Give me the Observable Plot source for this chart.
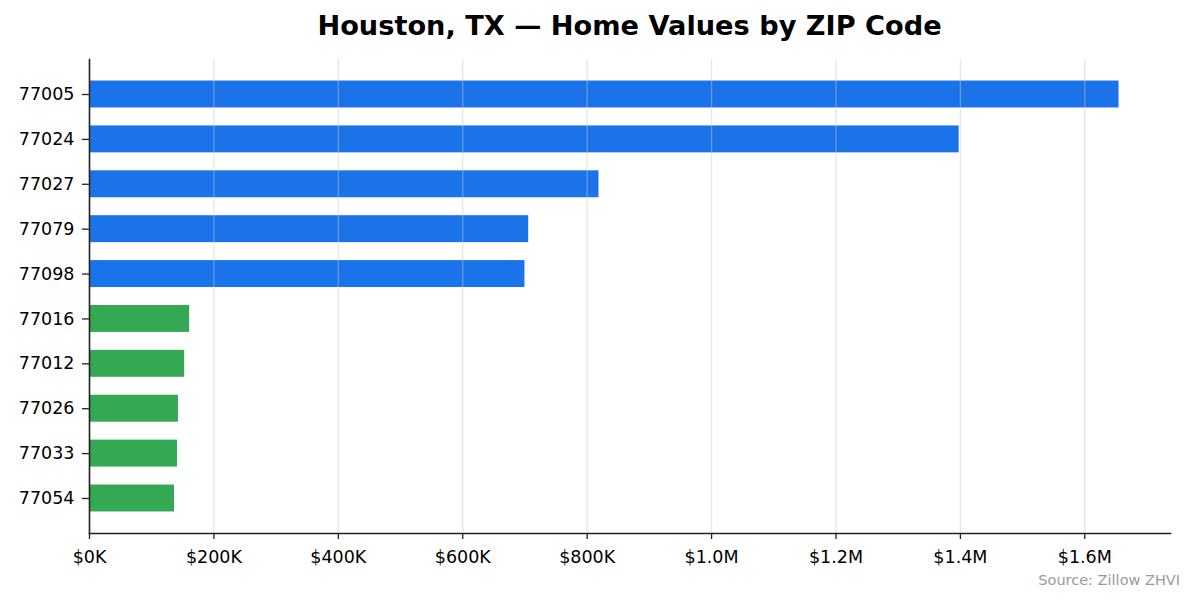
<!DOCTYPE html>
<html>
<head>
<meta charset="utf-8">
<script src="https://cdn.jsdelivr.net/npm/d3@7"></script>
<script src="https://cdn.jsdelivr.net/npm/@observablehq/plot@0.6"></script>
<style>
  html, body { margin: 0; padding: 0; background: #fff; }
  #wrap { position: relative; width: 1195px; height: 603px; font-family: "DejaVu Sans", sans-serif; }
  #title { height: 50px; box-sizing: border-box; padding: 10px 25px 0 89px; text-align: center;
           font-weight: bold; font-size: 27.2px; color: #000; line-height: 32px; }
  #source { position: absolute; right: 15px; top: 572px; font-size: 14.5px; color: #999; }
</style>
</head>
<body>
<div id="wrap">
  <div id="title">Houston, TX — Home Values by ZIP Code</div>
  <div id="chart"></div>
  <div id="source">Source: Zillow ZHVI</div>
</div>
<script>
const zips = ["77005", "77024", "77027", "77079", "77098", "77016", "77012", "77026", "77033", "77054"];
const values = [1655000, 1398000, 819000, 706000, 700000, 161000, 153000, 143000, 141500, 136700];
const groups = ["high", "high", "high", "high", "high", "low", "low", "low", "low", "low"];
const xTicks = [0, 200000, 400000, 600000, 800000, 1000000, 1200000, 1400000, 1600000];

const data = zips.map((z, i) => ({zip: z, value: values[i], group: groups[i]}));
const fmt = v => v >= 1e6 ? `$${(v / 1e6).toFixed(1)}M` : `$${Math.round(v / 1e3)}K`;

const chart = Plot.plot({
  width: 1195,
  height: 553,
  marginTop: 9,
  marginBottom: 70,
  marginLeft: 89,
  marginRight: 25,
  style: {fontFamily: "DejaVu Sans, sans-serif", fontSize: "17.5px", color: "#000", background: "#fff"},
  x: {domain: [0, d3.max(values) * 1.05], ticks: xTicks, tickFormat: fmt, label: null},
  y: {domain: zips, paddingInner: 0.4, paddingOuter: 0.48, round: false, label: null},
  color: {domain: ["high", "low"], range: ["#1a73e8", "#34a853"]},
  marks: [
    Plot.barX(data, {x: "value", y: "zip", fill: "group"}),
    Plot.gridX(xTicks, {stroke: "#c8c8c8", strokeOpacity: 0.45, strokeWidth: 1.3}),
    Plot.axisX(xTicks, {tickSize: 6, tickPadding: 11, tickFormat: fmt, stroke: "#222", strokeWidth: 1.3, label: null, fill: "#000"}),
    Plot.axisY({tickSize: 7, tickPadding: 8, stroke: "#222", strokeWidth: 1.3, label: null, fill: "#000"}),
    Plot.frame({anchor: "left", stroke: "#222", strokeWidth: 1.6}),
    Plot.frame({anchor: "bottom", stroke: "#222", strokeWidth: 1.6})
  ]
});
document.getElementById("chart").appendChild(chart);
</script>
</body>
</html>
